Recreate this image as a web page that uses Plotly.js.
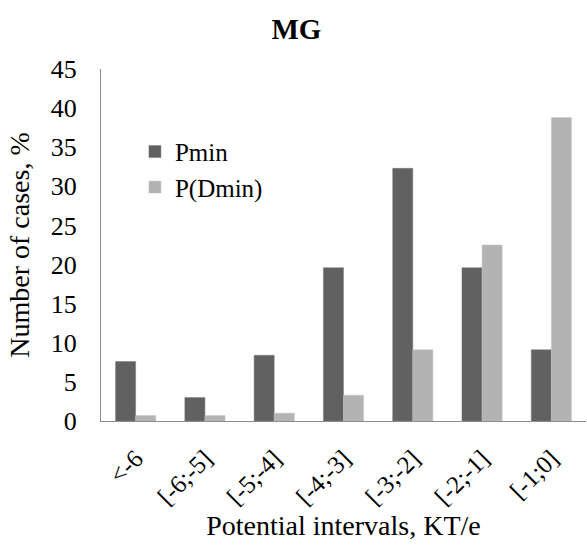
<!DOCTYPE html>
<html>
<head>
<meta charset="utf-8">
<script src="https://cdn.plot.ly/plotly-3.0.1.min.js"></script>
<style>html,body{margin:0;padding:0;background:#fff;}#chart{width:587px;height:548px;}</style>
</head>
<body>
<div id="chart"></div>
<script>
const categories = ["<-6", "[-6;-5]", "[-5;-4]", "[-4;-3]", "[-3;-2]", "[-2;-1]", "[-1;0]"];
const pmin = [7.6, 3.0, 8.4, 19.6, 32.3, 19.6, 9.1];
const pDmin = [0.7, 0.7, 1.0, 3.3, 9.1, 22.5, 38.8];
const seriesNames = ["Pmin", "P(Dmin)"];
const yTicks = [0, 5, 10, 15, 20, 25, 30, 35, 40, 45];

const font = "Liberation Serif";
const traces = [
  {type: "bar", x: categories, y: pmin, name: seriesNames[0], marker: {color: "#616161", line: {color: "#7a7a7a", width: 0.5}}},
  {type: "bar", x: categories, y: pDmin, name: seriesNames[1], marker: {color: "#b3b3b3", line: {color: "#c4c4c4", width: 0.5}}}
];
const layout = {
  width: 587, height: 548,
  margin: {l: 101, r: 1, t: 69, b: 127},
  paper_bgcolor: "#fff", plot_bgcolor: "#fff",
  font: {family: font, color: "#000", size: 24},
  title: {text: "<b>MG</b>", x: 0.505, xanchor: "center", y: 0.948, yanchor: "middle", font: {family: font, size: 29, color: "#000"}},
  barmode: "group", bargap: 0.42, bargroupgap: 0,
  showlegend: true,
  legend: {x: 0.07, y: 0.83, xanchor: "left", yanchor: "top", bgcolor: "rgba(0,0,0,0)", font: {family: font, size: 25}, itemwidth: 30},
  xaxis: {
    type: "category", tickangle: -45, showline: true, linecolor: "#8c8c8c", linewidth: 1,
    ticks: "", showgrid: false, zeroline: false, ticklabelstandoff: 12,
    tickfont: {family: font, size: 25},
    title: {text: "Potential intervals, KT/e", font: {family: font, size: 28}, standoff: 6}
  },
  yaxis: {
    range: [0, 45], tickvals: yTicks, showline: true, linecolor: "#8c8c8c", linewidth: 1,
    showgrid: false, zeroline: false, ticks: "", ticklabelstandoff: 18,
    tickfont: {family: font, size: 26},
    title: {text: "Number of cases, %", font: {family: font, size: 28}, standoff: 12}
  }
};
Plotly.newPlot("chart", traces, layout, {displayModeBar: false, staticPlot: true});
</script>
</body>
</html>
